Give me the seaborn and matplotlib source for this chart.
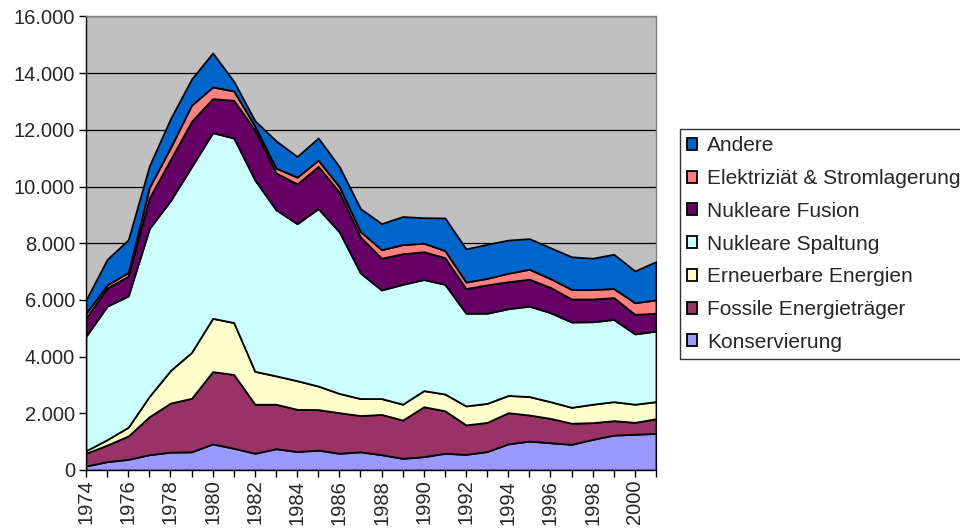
import matplotlib
matplotlib.use("Agg")
import matplotlib.pyplot as plt
import matplotlib.ticker as mticker
import seaborn as sns

# data
years = list(range(1974, 2002))

konservierung = [140, 295, 375, 540, 630, 640, 920, 765, 590, 750, 650, 700, 590, 640,
                 540, 410, 470, 590, 550, 650, 920, 1020, 960, 905, 1080, 1230, 1260, 1290]
fossile = [450, 585, 825, 1340, 1730, 1890, 2550, 2605, 1730, 1570, 1490, 1430, 1430, 1280,
           1420, 1350, 1760, 1500, 1040, 1030, 1100, 920, 860, 745, 590, 510, 420, 520]
erneuerbare = [90, 190, 310, 720, 1150, 1620, 1880, 1830, 1160, 1000, 1010, 830, 680, 600,
               560, 560, 570, 590, 670, 670, 610, 650, 590, 560, 650, 670, 640, 600]
spaltung = [4040, 4710, 4630, 5920, 5990, 6550, 6550, 6510, 6750, 5860, 5540, 6260, 5700, 4430,
            3830, 4230, 3920, 3870, 3270, 3180, 3060, 3190, 3140, 3010, 2910, 2900, 2480, 2490]
fusion = [640, 640, 700, 1080, 1450, 1600, 1200, 1330, 1760, 1300, 1400, 1490, 1400, 1270,
          1120, 1080, 980, 940, 870, 1000, 950, 950, 890, 810, 800, 770, 690, 630]
elektrizitaet = [170, 110, 130, 370, 420, 570, 410, 330, 140, 170, 240, 220, 190, 190,
                 300, 320, 300, 250, 230, 230, 300, 350, 310, 340, 340, 320, 410, 470]
andere = [470, 900, 1150, 760, 1020, 920, 1200, 340, 190, 960, 730, 780, 710, 810,
          920, 990, 900, 1150, 1170, 1200, 1170, 1080, 1090, 1150, 1100, 1210, 1120, 1350]

labels = ["Konservierung", "Fossile Energieträger", "Erneuerbare Energien",
          "Nukleare Spaltung", "Nukleare Fusion", "Elektriziät & Stromlagerung", "Andere"]
colors = ["#9999FF", "#993366", "#FFFFCC", "#CCFFFF", "#660066", "#FF8080", "#0066CC"]

sns.set_theme(style="ticks")
plt.rcParams["font.family"] = ["Liberation Sans", "DejaVu Sans"]

fig = plt.figure(figsize=(9.6, 5.31), dpi=100)
ax = fig.add_axes([0.0896, 0.1149, 0.5937, 0.8542])
ax.set_facecolor("#C0C0C0")

polys = ax.stackplot(years, konservierung, fossile, erneuerbare, spaltung, fusion,
                     elektrizitaet, andere, labels=labels, colors=colors,
                     edgecolor="black", linewidth=1.3, zorder=3)

ax.set_xlim(1974, 2001)
ax.set_ylim(0, 16000)
ax.yaxis.set_major_locator(mticker.MultipleLocator(2000))
ax.yaxis.set_major_formatter(mticker.FuncFormatter(lambda v, p: f"{int(v):,}".replace(",", ".")))
ax.set_xticks(years)
ax.set_xticklabels([str(y) if (y - 1974) % 2 == 0 else "" for y in years], rotation=90)
ax.grid(axis="y", color="black", linewidth=0.9, zorder=1)
ax.tick_params(axis="both", labelsize=14.5, length=5, width=1, color="black", direction="out")
ax.tick_params(axis="x", pad=2)
ax.tick_params(axis="y", pad=3)

for side in ["left", "bottom"]:
    ax.spines[side].set_color("black")
    ax.spines[side].set_linewidth(1)
for side in ["top", "right"]:
    ax.spines[side].set_color("#808080")
    ax.spines[side].set_linewidth(1)

handles = polys[::-1]
leg = fig.legend(handles, labels[::-1], loc="upper left", bbox_to_anchor=(0.708, 0.757),
                 fontsize=15, frameon=True, fancybox=False, handlelength=0.5,
                 handleheight=0.5, handletextpad=0.45, labelspacing=0.66,
                 borderpad=0.35, borderaxespad=0)
leg.get_frame().set_edgecolor("black")
leg.get_frame().set_linewidth(1)

fig.savefig("out.png", dpi=100)
